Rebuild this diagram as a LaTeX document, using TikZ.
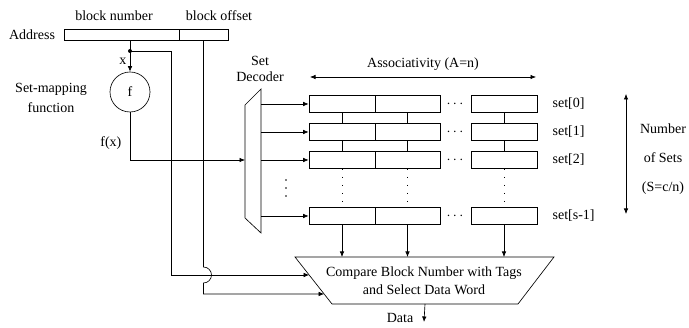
\documentclass[tikz,border=0pt]{standalone}
\usepackage{fontspec}
\setmainfont{Liberation Serif}
\usepackage{tikz}
\usetikzlibrary{positioning, calc}
\usetikzlibrary{arrows.meta}

\tikzset{
    cell/.style = {draw, minimum height=17pt, inner sep=0pt},
    dotline/.style = {dash pattern=on 1.2pt off 6.8pt}
}

\begin{document}
\begin{tikzpicture}[x=1pt, y=-1pt, line width=0.65pt, font=\fontsize{14}{16}\selectfont,
                    >={Latex[length=5.5pt,width=4.5pt]}]
                    \useasboundingbox (0,0) rectangle (689,328);
                    % address
                    \node[draw, minimum width=115pt, minimum height=11pt, inner sep=0pt] (blknum) at (121.5,34.5) {};
                    \node[draw, minimum width=49pt, minimum height=11pt, inner sep=0pt] (blkoff) at (203.5,34.5) {};
                    \node[left=5pt of blknum] (addr) {Address};
                    \node (numlbl) at (114,16) {block number};
                    \node (offlbl) at (219,16) {block offset};

                    \node[circle, draw, minimum size=40pt, inner sep=0pt] (f) at (130,92) {f};
                    \node[align=center] (maplbl) at (51,98) {Set-mapping\\[4pt]function};
                    \coordinate (xtap) at (f.north |- blknum.south);
                    \coordinate (xdot) at (130,51);
                    \coordinate (busA) at (171,0);

                    % decoder
                    \coordinate (decTL) at (245,105);
                    \coordinate (decTR) at (261,89);
                    \coordinate (decBR) at (261,233);
                    \coordinate (decBL) at (245,218);
                    \draw (decTL) -- (decTR) -- (decBR) -- (decBL) -- cycle;
                    \node[align=center] (declbl) at (260,69) {Set\\Decoder};

                    % sets
                    \foreach \r/\y/\t in {0/104/set[0], 1/132/set[1], 2/160/set[2], 3/216/set[s-1]} {
                        \node[cell, minimum width=66pt] (c\r a) at (342,\y) {};
                        \node[cell, minimum width=65pt] (c\r b) at (407.5,\y) {};
                        \node[cell, minimum width=66pt] (c\r c) at (504,\y) {};
                        \node (d\r) at (455,\y) {$\cdots$};
                        \node[anchor=west] (s\r) at (549,\y) {\t};
                        \draw[->] (decTR |- c\r a.west) -- (c\r a.west);
                    }
                    \foreach \yy in {180,188,196} \fill (286,\yy) circle (0.8pt);

                    % compare
                    \coordinate (cmpTL) at (295,257);
                    \coordinate (cmpTR) at (554,257);
                    \coordinate (cmpBR) at (518,304);
                    \coordinate (cmpBL) at (332,304);
                    \draw (cmpTL) -- (cmpTR) -- (cmpBR) -- (cmpBL) -- cycle;
                    \node[align=center, font=\fontsize{14}{18}\selectfont] (cmp) at (424,281) {Compare Block Number with Tags\\and Select Data Word};
                    \coordinate (in1) at ($(cmpTL)!0.383!(cmpBL)$);
                    \coordinate (in2) at ($(cmpTL)!0.787!(cmpBL)$);

                    \foreach \c in {a,b,c} {
                        \draw (c0\c) -- (c1\c);
                        \draw (c1\c) -- (c2\c);
                        \draw[dotline] (c2\c.south) -- (c3\c.north);
                        \draw[->] (c3\c) -- (c3\c.south |- cmpTL);
                    }

                    % wires
                    \draw (xtap) -- (xdot);
                    \fill (xdot) circle (2pt);
                    \draw[->] (xdot) -- node[left] {x} (f.north);
                    \draw[->] (f.south) |- node[pos=0.32, left=5pt] {f(x)} (decTL |- c2a.west);
                    \draw[->] (xdot) -| (busA |- in1) -- (in1);
                    \draw[->] (blkoff.south) -- ($(blkoff.south |- in1)+(0,-8)$)
                        arc[start angle=-90, end angle=90, radius=8] -- (blkoff.south |- in2) -- (in2);

                    \coordinate (cmpB) at ($(cmpBL)!0.5!(cmpBR)$);
                    \coordinate (dataEnd) at (424,322);
                    \draw[->] (cmpB) -- (dataEnd);
                    \node (data) at (400,318) {Data};

                    % dimensions
                    \coordinate (assocL) at (310,77);
                    \coordinate (assocR) at (536,77);
                    \draw[<->] (assocL) -- node[above=3pt] {Associativity (A=n)} (assocR);
                    \coordinate (nsT) at (626,94);
                    \coordinate (nsB) at (626,214);
                    \draw[<->] (nsT) -- (nsB);
                    \node[align=center] (nslbl) at (663,159) {Number\\[13pt]of Sets\\[13pt](S=c/n)};
                \end{tikzpicture}
\end{document}
